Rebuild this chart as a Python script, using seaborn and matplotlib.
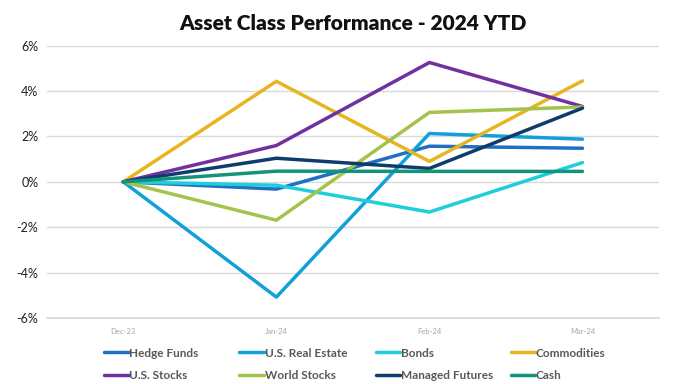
import numpy as np
import pandas as pd
import seaborn as sns
import matplotlib.pyplot as plt
from matplotlib.ticker import FuncFormatter, FixedLocator

# data (% returns, YTD)
months = ["Dec-23", "Jan-24", "Feb-24", "Mar-24"]
hedge_funds = [0.0, -0.32, 1.57, 1.48]
us_real_estate = [0.0, -5.08, 2.13, 1.88]
bonds = [0.0, -0.15, -1.33, 0.85]
commodities = [0.0, 4.43, 0.90, 4.45]
us_stocks = [0.0, 1.60, 5.26, 3.32]
world_stocks = [0.0, -1.69, 3.06, 3.30]
managed_futures = [0.0, 1.04, 0.59, 3.25]
cash = [0.0, 0.47, 0.46, 0.46]

series = {
    "Hedge Funds": hedge_funds,
    "U.S. Real Estate": us_real_estate,
    "Bonds": bonds,
    "Commodities": commodities,
    "U.S. Stocks": us_stocks,
    "World Stocks": world_stocks,
    "Managed Futures": managed_futures,
    "Cash": cash,
}
colors = ["#1F6FC4", "#11A0DA", "#1CCFDA", "#E6B51F",
          "#7030A0", "#A4C34B", "#0E3D6D", "#13937A"]

rows = []
for name, vals in series.items():
    for i, v in enumerate(vals):
        rows.append({"pos": i, "month": months[i], "value": v, "asset": name})
df = pd.DataFrame(rows)

sns.set_theme(style="white")
plt.rcParams["font.family"] = ["Lato", "DejaVu Sans"]

fig = plt.figure(figsize=(6.78, 3.84), dpi=100)
ax = fig.add_axes([0.069, 0.172, 0.903, 0.709])

sns.lineplot(data=df, x="pos", y="value", hue="asset", palette=colors,
             linewidth=2.5, ax=ax, legend=True, sort=False)

ax.set_xlim(-0.5, 3.5)
ax.set_ylim(-6, 6)
ax.set_yticks(np.arange(-6, 7, 2))
ax.yaxis.set_major_formatter(FuncFormatter(lambda v, p: f"{v:.0f}%"))
ax.tick_params(axis="y", labelsize=9, colors="#222222", length=0, pad=6)
ax.set_xticks(range(len(months)))
ax.set_xticklabels(months)
ax.tick_params(axis="x", labelsize=5.5, colors="#A6A6A6", length=0, pad=7)
ax.xaxis.set_minor_locator(FixedLocator(np.arange(-0.5, 3.6, 1)))
ax.tick_params(axis="x", which="minor", length=4, color="#D9D9D9", width=1,
               direction="in")
ax.grid(axis="y", color="#D9D9D9", linewidth=1)
ax.set_axisbelow(True)
for s in ["top", "right", "left"]:
    ax.spines[s].set_visible(False)
ax.spines["bottom"].set_color("#D9D9D9")
ax.set_xlabel("")
ax.set_ylabel("")

ax.set_title("Asset Class Performance - 2024 YTD", fontsize=15,
             fontweight="heavy", color="#111111", pad=11)

handles, labels = ax.get_legend_handles_labels()
ax.legend_.remove()

# legend laid out in equal-width columns, filled row by row
col_x = [0.153, 0.353, 0.554, 0.753]
for c in range(4):
    idx = [c, c + 4]
    leg = fig.legend([handles[i] for i in idx], [labels[i] for i in idx],
                     loc="upper left", bbox_to_anchor=(col_x[c], 0.095),
                     frameon=False, borderpad=0, borderaxespad=0,
                     handlelength=2.1, handletextpad=0.05, labelspacing=0.95,
                     prop={"size": 8.5, "weight": "bold"})
    for t in leg.get_texts():
        t.set_color("#595959")
    for h in leg.legend_handles:
        h.set_linewidth(2.5)

fig.savefig("out.png", dpi=100)
